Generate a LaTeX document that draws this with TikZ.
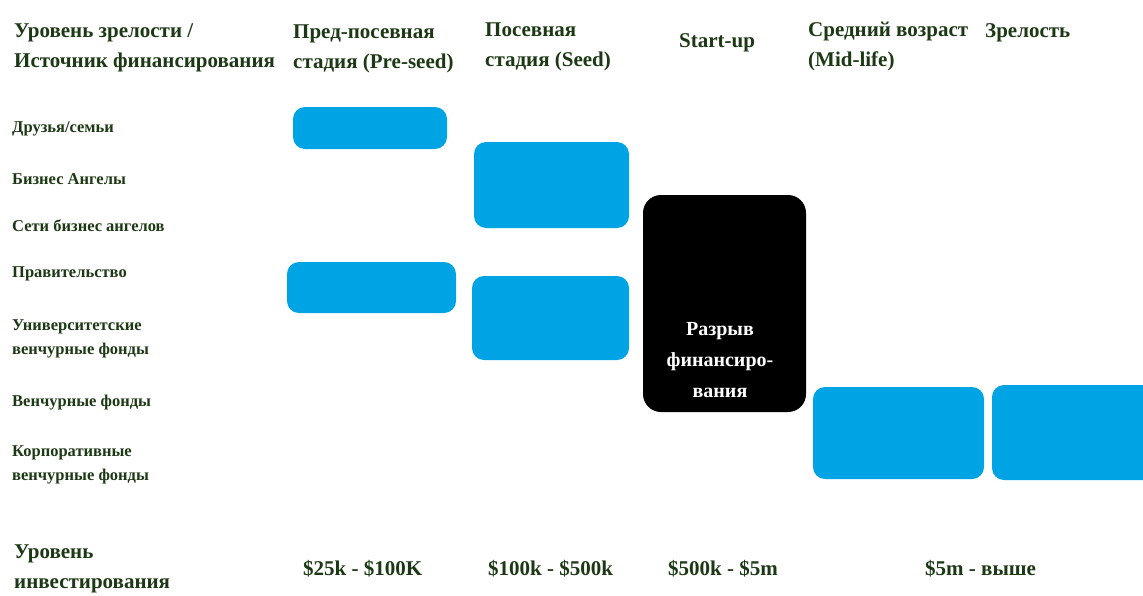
\documentclass[tikz,border=0pt]{standalone}
\usepackage{fontspec}
\setmainfont{Liberation Serif}
\definecolor{txtgreen}{RGB}{28,56,20}
\definecolor{stageblue}{RGB}{0,163,228}
\tikzset{
  head/.style={anchor=north west, inner sep=0pt, align=left, text=txtgreen,
    font=\fontsize{21}{30}\selectfont\bfseries},
  source/.style={anchor=west, inner sep=0pt, align=left, text=txtgreen,
    font=\fontsize{16.5}{24}\selectfont\bfseries},
  amount/.style={anchor=west, inner sep=0pt, text=txtgreen,
    font=\fontsize{21}{30}\selectfont\bfseries},
  stage/.style={fill=stageblue, rounded corners=12pt},
  gap/.style={fill=black, rounded corners=18pt}
}
\begin{document}
\begin{tikzpicture}[x=1pt,y=-1pt]
\useasboundingbox (0,0) rectangle (1143,595);

% column heads
\node [head] (hsrc)    at (14,23)  {Уровень зрелости /\\Источник финансирования};
\node [head] (hpre)    at (293,25) {Пред-посевная\\стадия (Pre-seed)};
\node [head] (hseed)   at (485,23) {Посевная\\стадия (Seed)};
\node [head] (hstart)  at (679,33) {Start-up};
\node [head] (hmid)    at (808,22) {Средний возраст\\(Mid-life)};
\node [head] (hmature) at (985,23) {Зрелость};

% sources of funding
\node [source] (friends)  at (12,129) {Друзья/семьи};
\node [source] (angels)   at (12,179) {Бизнес Ангелы};
\node [source] (network)  at (12,226) {Сети бизнес ангелов};
\node [source] (govt)     at (12,274) {Правительство};
\node [source] (univ)     at (12,339) {Университетские\\венчурные фонды};
\node [source] (venture)  at (12,403) {Венчурные фонды};
\node [source] (corp)     at (12,465) {Корпоративные\\венчурные фонды};

% stage boxes
\fill [stage] (293,107) rectangle (447,149); % pre-seed, friends
\fill [stage] (287,262) rectangle (456,313); % pre-seed, government
\fill [stage] (474,142) rectangle (629,228); % seed, angels
\fill [stage] (472,276) rectangle (629,360); % seed, university funds
\fill [gap]   (643,195) rectangle (806,412); % funding gap
\fill [stage] (813,387) rectangle (984,479); % mid-life
\fill [stage] (992,385) rectangle (1160,480); % maturity

\node [anchor=center, inner sep=0pt, align=center, text=white,
  font=\fontsize{20}{31}\selectfont\bfseries] (gaptext) at (720,360)
  {Разрыв\\финансиро-\\вания};

% investment level
\node [head] (hlevel) at (14,545) {Уровень\\инвестирования};
\node [amount] (apre)    at (303,569) {\$25k - \$100K};
\node [amount] (aseed)   at (488,569) {\$100k - \$500k};
\node [amount] (astart)  at (668,569) {\$500k - \$5m};
\node [amount] (amature) at (925,569) {\$5m - выше};

\end{tikzpicture}
\end{document}
